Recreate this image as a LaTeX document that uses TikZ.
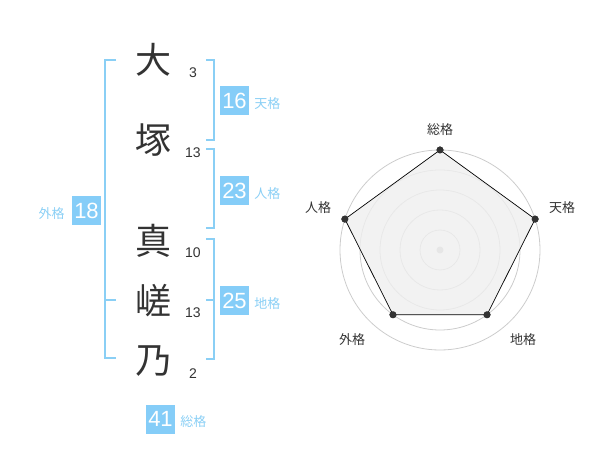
\documentclass[tikz,border=0pt]{standalone}
\usepackage{fontspec}
\setmainfont{Liberation Sans}
\newfontfamily\cjk{Noto Sans CJK JP}
\usetikzlibrary{positioning}
\definecolor{kakublue}{HTML}{85CDF8}
\definecolor{kakuline}{HTML}{8ACFF5}
\definecolor{inkgray}{HTML}{333333}
\definecolor{ringgray}{HTML}{CCCCCC}
\definecolor{areagray}{HTML}{EFEFEF}

\begin{document}
\begin{tikzpicture}[x=1pt,y=-1pt]

\tikzstyle{namechar} = [inner sep=0,text=inkgray,font=\cjk\fontsize{36}{36}\selectfont]%
\tikzstyle{strokes} = [inner sep=0,text=inkgray,font=\fontsize{14}{14}\selectfont]%
\tikzstyle{kakubox} = [rectangle,fill=kakublue,text=white,inner sep=0,minimum width=29pt,minimum height=29pt,font=\fontsize{22}{22}\selectfont]%
\tikzstyle{kakuname} = [inner sep=0,text=kakuline,font=\cjk\fontsize{13}{13}\selectfont]%
\tikzstyle{bracket} = [draw=kakuline,line width=2pt]%
\tikzstyle{ring} = [draw=ringgray,line width=0.8pt]%
\tikzstyle{radardot} = [circle,fill=inkgray,inner sep=0,minimum size=7pt]%
\tikzstyle{radarname} = [inner sep=0,text=inkgray,font=\cjk\fontsize{13}{13}\selectfont]%

\useasboundingbox (0,0) rectangle (600,470);

% name
\node[namechar] (c1) at (153, 60) {大};
\node[namechar] (c2) at (153, 140) {塚};
\node[namechar] (c3) at (153, 241) {真};
\node[namechar] (c4) at (153, 301) {嵯};
\node[namechar] (c5) at (153, 361) {乃};

\node[strokes] (s1) at (193, 73) {3};
\node[strokes] (s2) at (193, 153) {13};
\node[strokes] (s3) at (193, 253) {10};
\node[strokes] (s4) at (193, 313) {13};
\node[strokes] (s5) at (193, 374) {2};

% brackets
\draw[bracket] (116, 60) -- (105, 60) -- (105, 358) -- (116, 358);
\draw[bracket] (105, 300) -- (116, 300);
\draw[bracket] (206, 60) -- (214, 60) -- (214, 140) -- (206, 140);
\draw[bracket] (206, 149) -- (214, 149) -- (214, 228) -- (206, 228);
\draw[bracket] (206, 239) -- (214, 239) -- (214, 359) -- (206, 359);
\draw[bracket] (214, 300) -- (206, 300);

% scores
\node[kakubox] (gai) at (86.5, 210.5) {18};
\node[kakuname, left=7pt of gai, yshift=-3pt] (gailbl) {外格};
\node[kakubox] (ten) at (234.5, 100.5) {16};
\node[kakuname, right=5pt of ten, yshift=-3pt] (tenlbl) {天格};
\node[kakubox] (jin) at (234.5, 190.5) {23};
\node[kakuname, right=5pt of jin, yshift=-3pt] (jinlbl) {人格};
\node[kakubox] (chi) at (234.5, 300.5) {25};
\node[kakuname, right=5pt of chi, yshift=-3pt] (chilbl) {地格};
\node[kakubox] (sou) at (160.5, 419) {41};
\node[kakuname, right=5pt of sou, yshift=-3pt] (soulbl) {総格};

% radar
\begin{scope}[shift={(440, 250)}]
\foreach \r in {20, 40, 60, 80, 100}
    \draw[ring] (0, 0) circle (\r);
\fill[ringgray!120] (0, 0) circle (3.5);

\node[radardot] (rsou) at (-90:100) {};
\node[radardot] (rten) at (-18:100) {};
\node[radardot] (rchi) at (54:80) {};
\node[radardot] (rgai) at (126:80) {};
\node[radardot] (rjin) at (198:100) {};

\draw[fill=areagray, fill opacity=0.8, draw=black, line width=0.7pt]
    (rsou.center) -- (rten.center) -- (rchi.center) -- (rgai.center) -- (rjin.center) -- cycle;
\foreach \d in {rsou, rten, rchi, rgai, rjin}
    \node[radardot] at (\d) {};

\node[radarname] (lsou) at (0, -120) {総格};
\node[radarname] (lten) at (122, -42) {天格};
\node[radarname] (ljin) at (-122, -42) {人格};
\node[radarname] (lchi) at (83, 90) {地格};
\node[radarname] (lgai) at (-88, 90) {外格};
\end{scope}

\end{tikzpicture}
\end{document}
